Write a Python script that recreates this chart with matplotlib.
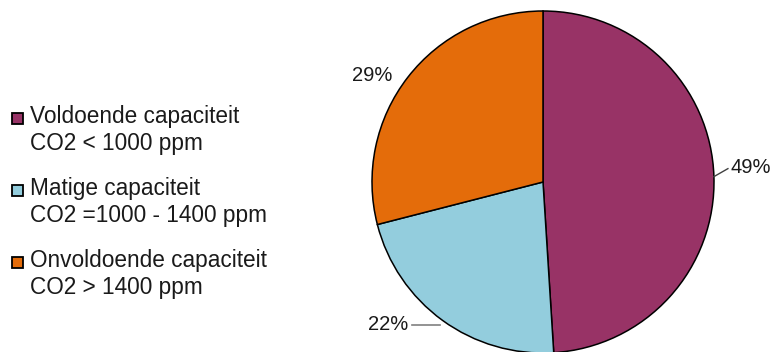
import numpy as np
import matplotlib
matplotlib.use("Agg")
import matplotlib.pyplot as plt
from matplotlib.patches import Rectangle

plt.rcParams['font.family'] = ['Liberation Sans', 'DejaVu Sans']

# aandeel lokalen per ventilatieklasse
categories = ['Voldoende capaciteit', 'Matige capaciteit', 'Onvoldoende capaciteit']
subtitles = ['CO2 < 1000 ppm', 'CO2 =1000 - 1400 ppm', 'CO2 > 1400 ppm']
shares = [49, 22, 29]
colors = ['#983366', '#93CDDD', '#E46C0A']

W, H = 771, 352
fig = plt.figure(figsize=(W / 100, H / 100), dpi=100)
ax = fig.add_axes([0, 0, 1, 1])

cx, cy, r = 543, H - 182, 171
wedges, _ = ax.pie(shares, colors=colors, startangle=90, counterclock=False,
                   center=(cx, cy), radius=r, frame=True,
                   wedgeprops=dict(edgecolor='black', linewidth=1.1))
ax.set_xlim(0, W)
ax.set_ylim(0, H)
ax.set_aspect('equal')
ax.axis('off')

# (dx, dy, leader) in pixels from the wedge edge at the mid angle
offsets = {0: (14, 8, True), 1: (-30, -5, True), 2: (-36, 2, False)}
for i, w in enumerate(wedges):
    ang = np.deg2rad((w.theta1 + w.theta2) / 2)
    ex, ey = cx + r * np.cos(ang), cy + r * np.sin(ang)
    dx, dy, leader = offsets[i]
    txt = f'{shares[i]}%'
    if leader:
        tx, ty = ex + dx, ey + dy
        if i == 1:
            # horizontal leader
            ax.plot([ex - 2, tx], [ty, ty], color='#808080', lw=1.2)
        else:
            ax.plot([ex, tx], [ey, ty], color='#404040', lw=1)
        ha = 'left' if dx > 0 else 'right'
        ax.text(tx + (3 if dx > 0 else -4), ty + 1, txt, ha=ha, va='center',
                fontsize=14.5, color='#1a1a1a')
    else:
        ax.text(ex + dx, ey + dy, txt, ha='center', va='center',
                fontsize=14.5, color='#1a1a1a')

# legenda
base = [123, 195, 267]
for i, cat in enumerate(categories):
    y0 = H - base[i]
    ax.add_patch(Rectangle((12, y0 - 1), 11, 11, facecolor=colors[i],
                           edgecolor='black', lw=1.3))
    ax.text(30, y0, cat, fontsize=16.3, va='baseline', ha='left', color='#1a1a1a')
    ax.text(30, y0 - 27, subtitles[i], fontsize=16.3, va='baseline', ha='left',
            color='#1a1a1a')

fig.savefig('out.png', dpi=100)
